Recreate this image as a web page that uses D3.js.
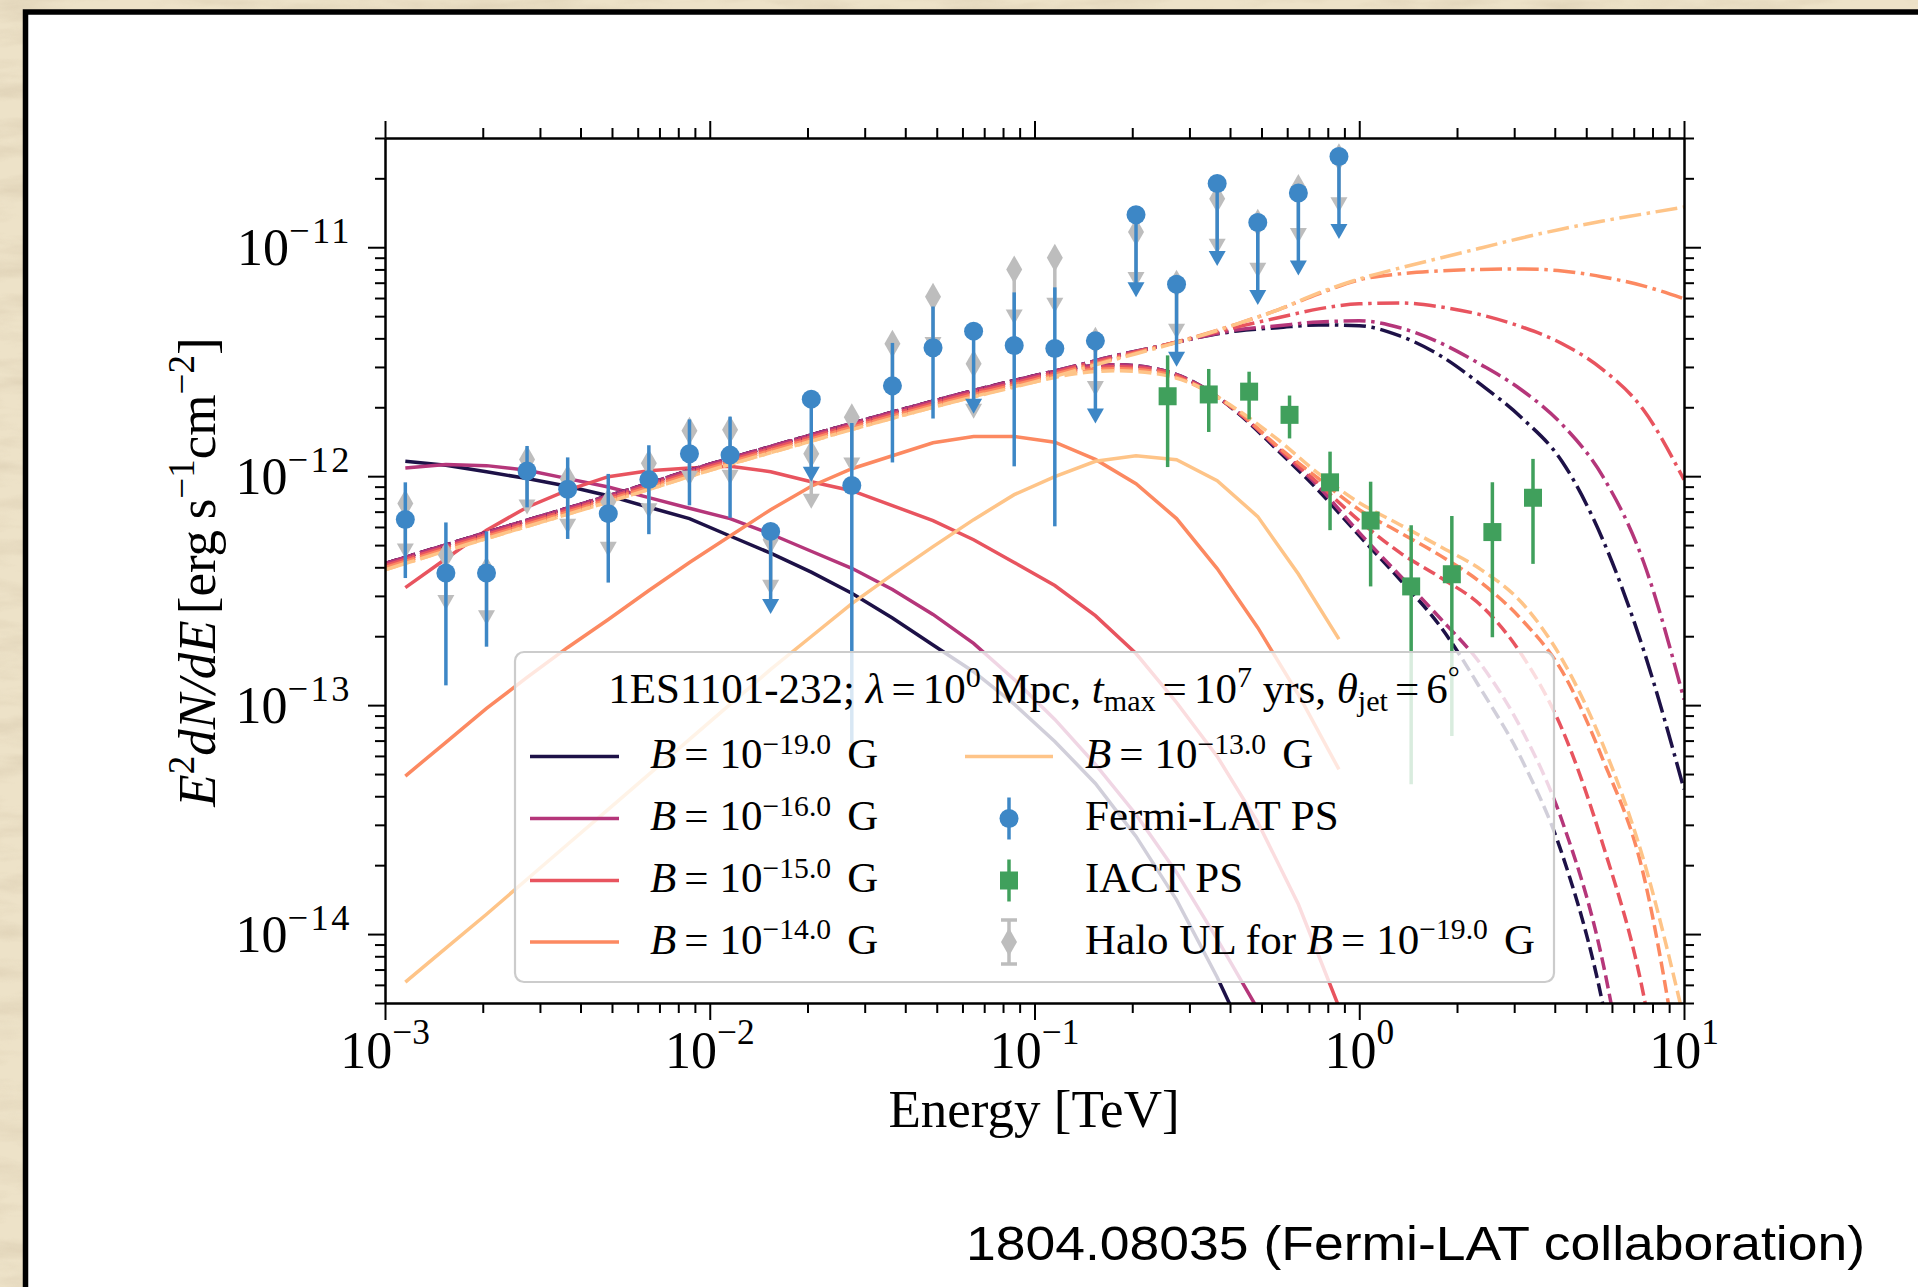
<!DOCTYPE html>
<html>
<head>
<meta charset="utf-8">
<title>1ES1101-232 cascade spectra</title>
<script src="https://cdn.jsdelivr.net/npm/d3@7"></script>
<style>
  html, body { margin: 0; padding: 0; background: #ede2c8; }
  svg { display: block; }
  text { font-family: "Liberation Serif", "Times New Roman", serif; fill: #000; white-space: pre; }
</style>
</head>
<body>
<svg id="chart" width="1918" height="1287"></svg>
<script>
// ---- data (fluxes in units of 1e-12 erg s^-1 cm^-2, energies in TeV) ----
const FLUX_UNIT = 1e-12;

// Fermi-LAT bin centres, also the energy grid of the cascade (solid) curves
const fermiE = [0.001155, 0.00154, 0.002054, 0.002738, 0.003652, 0.00487, 0.006494, 0.00866,
  0.01155, 0.0154, 0.02054, 0.02738, 0.03652, 0.0487, 0.06494, 0.0866,
  0.1155, 0.154, 0.2054, 0.2738, 0.3652, 0.487, 0.6494, 0.866];
const fermiF = [0.647, 0.378, 0.378, 1.054, 0.877, 0.686, 0.966, 1.253, 1.236, 0.574, 2.17, 0.910,
  2.48, 3.64, 4.30, 3.72, 3.61, 3.90, 13.87, 6.89, 19.0, 12.82, 17.26, 24.9];
const fermiHi = [0.94, 0.628, 0.574, 1.355, 1.208, 1.023, 1.365, 1.77, 1.82, null, null, 1.706,
  3.82, 5.51, null, 6.35, 6.68, null, null, null, null, null, null, null];
const fermiLo = [0.359, 0.122, 0.180, 0.731, 0.532, 0.343, 0.558, 0.746, 0.658, null, null, 0.0682,
  1.148, 1.786, null, 1.104, 0.604, null, null, null, null, null, null, null];
const fermiUL = [0, 0, 0, 0, 0, 0, 0, 0, 0, 1, 1, 0, 0, 0, 1, 0, 0, 1, 1, 1, 1, 1, 1, 1];

// halo upper limits for B = 1e-19 G (same bins)
const haloF = [0.760, 0.453, 0.388, 1.183, 0.975, 0.774, 1.138, 1.578, 1.596, 0.528, 1.253, 1.807,
  3.79, 6.07, 3.10, 8.0, 9.0, 3.90, 11.67, 6.93, 16.3, 12.8, 18.15, 24.7];

// IACT points
const iactE = [0.257, 0.344, 0.458, 0.610, 0.813, 1.084, 1.445, 1.928, 2.570, 3.428];
const iactF = [2.234, 2.275, 2.34, 1.853, 0.940, 0.640, 0.330, 0.373, 0.570, 0.805];
const iactHi = [3.37, 2.94, 2.86, 2.25, 1.28, 0.946, 0.610, 0.670, 0.940, 1.19];
const iactLo = [1.096, 1.56, 1.77, 1.462, 0.581, 0.330, 0.0451, 0.0733, 0.198, 0.414];

// energy grid of the observed (dashed) and intrinsic (dash-dot) spectra
const modelE = [0.001, 0.001778, 0.003162, 0.005623, 0.01, 0.01778, 0.03162, 0.05623, 0.1,
  0.1334, 0.1778, 0.2371, 0.3162, 0.4217, 0.5623, 0.7499, 1.0, 1.334, 1.778, 2.371, 3.162,
  4.217, 5.623, 7.499, 10.0];

// cascade component (solid)
const cascade19 = [1.162, 1.117, 1.046, 0.976, 0.904, 0.822, 0.732, 0.653, 0.548, 0.461, 0.381, 0.308,
  0.240, 0.183, 0.140, 0.101, 0.0694, 0.0455, 0.0267, 0.0141, 0.00648, 0.00271];
const cascade16 = [1.087, 1.126, 1.112, 1.062, 0.976, 0.897, 0.806, 0.724, 0.653, 0.559, 0.470, 0.396,
  0.320, 0.249, 0.186, 0.1295, 0.0866, 0.0551, 0.0333, 0.0186, 0.0095, 0.0047];
const cascade15 = [0.326, 0.436, 0.581, 0.732, 0.870, 0.995, 1.055, 1.087, 1.105, 1.046, 0.946, 0.864,
  0.744, 0.639, 0.528, 0.420, 0.333, 0.246, 0.168, 0.1027, 0.0597, 0.0308, 0.0135, 0.0048];
const cascade14 = [0.0490, 0.0688, 0.0967, 0.1321, 0.1786, 0.2365, 0.3166, 0.4195, 0.548, 0.714, 0.904, 1.078,
  1.228, 1.400, 1.490, 1.490, 1.407, 1.184, 0.927, 0.653, 0.395, 0.218, 0.1113, 0.0524];
const cascade13 = [0.00617, 0.00868, 0.01221, 0.01736, 0.02467, 0.03507, 0.0498, 0.0709, 0.1007, 0.1432, 0.1994, 0.2778,
  0.3717, 0.4924, 0.6459, 0.8306, 0.995, 1.162, 1.228, 1.180, 0.956, 0.666, 0.3736, 0.1943];

// observed spectrum (dashed)
const observed19 = [0.4151, 0.5336, 0.6825, 0.8733, 1.128, 1.428, 1.800, 2.245, 2.745, 2.974, 3.065, 2.944,
  2.533, 1.893, 1.292, 0.864, 0.550, 0.3534, 0.2205, 0.1171, 0.0580, 0.0223, 0.00494, 0.000422];
const observed16 = [0.4151, 0.5336, 0.6825, 0.8733, 1.128, 1.428, 1.800, 2.245, 2.745, 2.974, 3.065, 2.944,
  2.533, 1.911, 1.318, 0.900, 0.567, 0.3681, 0.2389, 0.1505, 0.0783, 0.0311, 0.00754, 0.000697];
const observed15 = [0.4068, 0.5229, 0.6689, 0.8558, 1.105, 1.399, 1.764, 2.200, 2.690, 2.915, 3.004, 2.915,
  2.507, 1.911, 1.331, 0.927, 0.639, 0.4636, 0.3607, 0.2723, 0.1664, 0.0783, 0.0247, 0.00547, 0.000422];
const observed14 = [0.3985, 0.5123, 0.6552, 0.8384, 1.083, 1.371, 1.728, 2.155, 2.635, 2.857, 2.944, 2.857,
  2.482, 1.931, 1.345, 0.975, 0.714, 0.567, 0.4498, 0.3430, 0.2365, 0.1403, 0.0580, 0.01825, 0.0019];
const observed13 = [0.3902, 0.5016, 0.6416, 0.8209, 1.060, 1.342, 1.692, 2.110, 2.580, 2.801, 2.886, 2.801,
  2.482, 1.950, 1.443, 1.025, 0.766, 0.614, 0.492, 0.3909, 0.2806, 0.1582, 0.0674, 0.0212, 0.00425];

// intrinsic spectrum (dash-dot)
const intrinsic19 = [0.4151, 0.5336, 0.6825, 0.8733, 1.128, 1.428, 1.800, 2.245, 2.745, 3.03, 3.36, 3.67,
  4.02, 4.31, 4.45, 4.58, 4.54, 4.10, 3.36, 2.51, 1.80, 1.157, 0.528, 0.175, 0.0429];
const intrinsic16 = [0.4151, 0.5336, 0.6825, 0.8733, 1.128, 1.428, 1.800, 2.245, 2.745, 3.03, 3.36, 3.67,
  4.02, 4.36, 4.54, 4.72, 4.77, 4.45, 3.82, 3.07, 2.38, 1.68, 0.998, 0.424, 0.1059];
const intrinsic15 = [0.4068, 0.5229, 0.6689, 0.8558, 1.105, 1.399, 1.764, 2.200, 2.690, 3.00, 3.32, 3.67,
  4.06, 4.49, 4.92, 5.38, 5.66, 5.71, 5.49, 5.07, 4.49, 3.79, 2.92, 1.95, 0.965];
const intrinsic14 = [0.3985, 0.5123, 0.6552, 0.8384, 1.083, 1.371, 1.728, 2.155, 2.635, 2.94, 3.27, 3.65,
  4.08, 4.63, 5.33, 6.26, 7.20, 7.65, 7.88, 8.00, 8.04, 7.88, 7.42, 6.78, 5.95];
const intrinsic13 = [0.3902, 0.5016, 0.6416, 0.8209, 1.060, 1.342, 1.692, 2.110, 2.580, 2.89, 3.24, 3.62,
  4.06, 4.63, 5.33, 6.32, 7.27, 8.12, 8.98, 9.93, 10.98, 12.02, 13.02, 13.97, 14.99];

const bExponents = ["\u221219.0", "\u221216.0", "\u221215.0", "\u221214.0", "\u221213.0"];
const xTickExp = ["\u22123", "\u22122", "\u22121", "0", "1"];
const yTickExp = ["\u221214", "\u221213", "\u221212", "\u221211"];

// arrow lengths of the upper limits (fraction of the value)
const fermiArrow = 0.47;
const haloArrow = 0.62;

// ---- chart ----
const svg = d3.select("#chart");
const plot = { left: 385, right: 1684, top: 138, bottom: 1003 };

const x = d3.scaleLog().domain([1e-3, 10]).range([plot.left, plot.right]);
const y = d3.scaleLog().domain([5e-15, 3e-11]).range([plot.bottom, plot.top]);
const fy = v => y(v * FLUX_UNIT);

const colors = ["#1d1147", "#b5367a", "#e8545f", "#fc8961", "#fec488"];
const models = [
  { exp: bExponents[0], color: colors[0], cascade: cascade19, observed: observed19, intrinsic: intrinsic19 },
  { exp: bExponents[1], color: colors[1], cascade: cascade16, observed: observed16, intrinsic: intrinsic16 },
  { exp: bExponents[2], color: colors[2], cascade: cascade15, observed: observed15, intrinsic: intrinsic15 },
  { exp: bExponents[3], color: colors[3], cascade: cascade14, observed: observed14, intrinsic: intrinsic14 },
  { exp: bExponents[4], color: colors[4], cascade: cascade13, observed: observed13, intrinsic: intrinsic13 }
];

const blue = "#3d87c6", green = "#40a05c", grey = "#bdbdbd";
const LW = 3.5;

// background: paper + white slide
const defs = svg.append("defs");
const paper = defs.append("filter").attr("id", "paper")
  .attr("x", 0).attr("y", 0).attr("width", 1).attr("height", 1);
paper.append("feTurbulence").attr("type", "fractalNoise")
  .attr("baseFrequency", "0.012 0.05").attr("numOctaves", 4).attr("seed", 11);
paper.append("feColorMatrix").attr("type", "matrix")
  .attr("values", "0 0 0 0 0.66  0 0 0 0 0.56  0 0 0 0 0.40  1.5 0 0 0 -0.6");

svg.append("rect").attr("width", 1918).attr("height", 1287).attr("fill", "#ede2c8");
svg.append("rect").attr("width", 1918).attr("height", 1287)
  .attr("filter", "url(#paper)").attr("opacity", 0.7);
svg.append("rect").attr("x", 25.5).attr("y", 12).attr("width", 2000).attr("height", 2000)
  .attr("fill", "#fff").attr("stroke", "#000").attr("stroke-width", 5.5);

defs.append("clipPath").attr("id", "plotclip").append("rect")
  .attr("x", plot.left).attr("y", plot.top)
  .attr("width", plot.right - plot.left).attr("height", plot.bottom - plot.top);

const g = svg.append("g").attr("clip-path", "url(#plotclip)");

// curves
const lineLinear = d3.line().x(d => x(d[0])).y(d => fy(d[1]));
const lineSmooth = d3.line().x(d => x(d[0])).y(d => fy(d[1])).curve(d3.curveMonotoneX);
const zipE = (es, vs) => vs.map((v, i) => [es[i], v]);

models.forEach(m => {
  g.append("path").datum(zipE(fermiE, m.cascade)).attr("d", lineLinear)
    .attr("fill", "none").attr("stroke", m.color).attr("stroke-width", LW);
});
models.forEach(m => {
  g.append("path").datum(zipE(modelE, m.observed)).attr("d", lineSmooth)
    .attr("fill", "none").attr("stroke", m.color).attr("stroke-width", LW)
    .attr("stroke-dasharray", "13,5.6");
});
models.forEach(m => {
  g.append("path").datum(zipE(modelE, m.intrinsic)).attr("d", lineSmooth)
    .attr("fill", "none").attr("stroke", m.color).attr("stroke-width", LW)
    .attr("stroke-dasharray", "22,5.6,3.5,5.6");
});

// marker helpers
const downArrow = (cx, cy) => `M${cx - 8.5},${cy - 7.5}L${cx + 8.5},${cy - 7.5}L${cx},${cy + 7.5}Z`;
const diamond = (cx, cy, w, h) => `M${cx},${cy - h / 2}L${cx + w / 2},${cy}L${cx},${cy + h / 2}L${cx - w / 2},${cy}Z`;

// halo upper limits
const gh = g.append("g");
haloF.forEach((v, i) => {
  const cx = x(fermiE[i]);
  gh.append("line").attr("x1", cx).attr("x2", cx).attr("y1", fy(v)).attr("y2", fy(v * haloArrow))
    .attr("stroke", grey).attr("stroke-width", LW);
  gh.append("path").attr("d", downArrow(cx, fy(v * haloArrow))).attr("fill", grey);
  gh.append("path").attr("d", diamond(cx, fy(v), 16, 28)).attr("fill", grey);
});

// Fermi-LAT points
const gf = g.append("g");
fermiF.forEach((v, i) => {
  const cx = x(fermiE[i]);
  if (fermiUL[i]) {
    gf.append("line").attr("x1", cx).attr("x2", cx).attr("y1", fy(v)).attr("y2", fy(v * fermiArrow))
      .attr("stroke", blue).attr("stroke-width", LW);
    gf.append("path").attr("d", downArrow(cx, fy(v * fermiArrow))).attr("fill", blue);
  } else {
    gf.append("line").attr("x1", cx).attr("x2", cx).attr("y1", fy(fermiLo[i])).attr("y2", fy(fermiHi[i]))
      .attr("stroke", blue).attr("stroke-width", LW);
  }
  gf.append("circle").attr("cx", cx).attr("cy", fy(v)).attr("r", 9.5).attr("fill", blue);
});

// IACT points
const gi = g.append("g");
iactF.forEach((v, i) => {
  const cx = x(iactE[i]);
  gi.append("line").attr("x1", cx).attr("x2", cx).attr("y1", fy(iactLo[i])).attr("y2", fy(iactHi[i]))
    .attr("stroke", green).attr("stroke-width", LW);
  gi.append("rect").attr("x", cx - 9).attr("y", fy(v) - 9).attr("width", 18).attr("height", 18)
    .attr("fill", green);
});

// rich text helper (italic, super- and subscripts)
function rich(sel, parts, size) {
  let cur = 0;
  parts.forEach(p => {
    const off = p.sup ? -size * (p.raise || 0.36) : p.sub ? size * 0.18 : 0;
    const t = sel.append("tspan").text(p.t).attr("dy", off - cur);
    if (p.dx) t.attr("dx", p.dx);
    if (p.sup || p.sub) t.attr("font-size", size * (p.scale || 0.7));
    if (p.ls) t.attr("letter-spacing", p.ls);
    if (p.it) t.attr("font-style", "italic");
    cur = off;
  });
}

// legend
const LF = 43;
const lg = svg.append("g");
lg.append("rect").attr("x", 515).attr("y", 652).attr("width", 1039).attr("height", 330).attr("rx", 9)
  .attr("fill", "#fff").attr("fill-opacity", 0.8).attr("stroke", "#cccccc").attr("stroke-width", 2.2);

const title = lg.append("text").attr("x", 1034).attr("y", 703).attr("text-anchor", "middle").attr("font-size", LF);
rich(title, [
  { t: "1ES1101-232; " }, { t: "\u03bb", it: true }, { t: "=", dx: 7 }, { t: "10", dx: 7 }, { t: "0", sup: true, raise: 0.37 },
  { t: " Mpc, " }, { t: "t", it: true }, { t: "max", sub: true }, { t: "=", dx: 7 }, { t: "10", dx: 7 },
  { t: "7", sup: true, raise: 0.37 }, { t: " yrs, " }, { t: "\u03b8", it: true }, { t: "jet", sub: true },
  { t: "=", dx: 7 }, { t: "6", dx: 7 }, { t: "\u00b0", sup: true, raise: 0.37 }
], LF);

const rowBase = [768, 830, 892, 953.5];
function bParts(exp) {
  return [{ t: "B", it: true }, { t: "=", dx: 8 }, { t: "10", dx: 11 },
    { t: exp, sup: true, raise: 0.33, scale: 0.69 }, { t: "G", dx: 16 }];
}
[0, 1, 2, 3].forEach(r => {
  const hy = rowBase[r] - 11.5;
  lg.append("line").attr("x1", 530).attr("x2", 619).attr("y1", hy).attr("y2", hy)
    .attr("stroke", models[r].color).attr("stroke-width", LW);
  const t = lg.append("text").attr("x", 650).attr("y", rowBase[r]).attr("font-size", LF);
  rich(t, bParts(models[r].exp), LF);
});
// second column
{
  const hy0 = rowBase[0] - 11.5;
  lg.append("line").attr("x1", 965).attr("x2", 1053).attr("y1", hy0).attr("y2", hy0)
    .attr("stroke", models[4].color).attr("stroke-width", LW);
  const t0 = lg.append("text").attr("x", 1085).attr("y", rowBase[0]).attr("font-size", LF);
  rich(t0, bParts(models[4].exp), LF);

  const mx = 1009;
  const h1 = rowBase[1] - 11.5;
  lg.append("line").attr("x1", mx).attr("x2", mx).attr("y1", h1 - 21).attr("y2", h1 + 21)
    .attr("stroke", blue).attr("stroke-width", LW);
  lg.append("circle").attr("cx", mx).attr("cy", h1).attr("r", 9.5).attr("fill", blue);
  lg.append("text").attr("x", 1085).attr("y", rowBase[1]).attr("font-size", LF).text("Fermi-LAT PS");

  const h2 = rowBase[2] - 11.5;
  lg.append("line").attr("x1", mx).attr("x2", mx).attr("y1", h2 - 21).attr("y2", h2 + 21)
    .attr("stroke", green).attr("stroke-width", LW);
  lg.append("rect").attr("x", mx - 9).attr("y", h2 - 9).attr("width", 18).attr("height", 18).attr("fill", green);
  lg.append("text").attr("x", 1085).attr("y", rowBase[2]).attr("font-size", LF).text("IACT PS");

  const h3 = rowBase[3] - 11.5;
  lg.append("line").attr("x1", mx).attr("x2", mx).attr("y1", h3 - 22).attr("y2", h3 + 22)
    .attr("stroke", grey).attr("stroke-width", LW);
  [h3 - 22, h3 + 22].forEach(cy => lg.append("line").attr("x1", mx - 8).attr("x2", mx + 8)
    .attr("y1", cy).attr("y2", cy).attr("stroke", grey).attr("stroke-width", LW));
  lg.append("path").attr("d", diamond(mx, h3, 16, 28)).attr("fill", grey);
  const t3 = lg.append("text").attr("x", 1085).attr("y", rowBase[3]).attr("font-size", LF);
  rich(t3, [{ t: "Halo UL for " }].concat(bParts(bExponents[0])), LF);
}

// axes
const xMajor = [1e-3, 1e-2, 1e-1, 1, 10];
const xMinor = [];
for (let d = -3; d < 1; d++) for (let k = 2; k <= 9; k++) xMinor.push(k * Math.pow(10, d));
const yMajor = [1e-14, 1e-13, 1e-12, 1e-11];
const yMinor = [];
for (let d = -15; d < -10; d++) for (let k = 2; k <= 9; k++) {
  const v = k * Math.pow(10, d);
  if (v >= 5e-15 && v <= 3e-11) yMinor.push(v);
}

function axis(gen, tr, vals, size) {
  const a = svg.append("g").attr("transform", tr)
    .call(gen.tickValues(vals).tickSize(size).tickSizeOuter(0).tickFormat(""));
  a.selectAll("line, path").attr("stroke", "#000").attr("stroke-width", 2);
}
[[d3.axisBottom(x), `translate(0,${plot.bottom})`], [d3.axisTop(x), `translate(0,${plot.top})`]]
  .forEach(([gen, tr]) => { axis(gen, tr, xMinor, 10); axis(gen, tr, xMajor, 17); });
[[d3.axisLeft(y), `translate(${plot.left},0)`], [d3.axisRight(y), `translate(${plot.right},0)`]]
  .forEach(([gen, tr]) => { axis(gen, tr, yMinor, 10); axis(gen, tr, yMajor, 17); });

const TF = 52;
xMajor.forEach((v, i) => {
  const t = svg.append("text").attr("x", x(v)).attr("y", 1068).attr("text-anchor", "middle").attr("font-size", TF);
  rich(t, [{ t: "10" }, { t: xTickExp[i], sup: true, raise: 0.46, scale: 0.68 }], TF);
});
yMajor.forEach((v, i) => {
  const t = svg.append("text").attr("x", 352).attr("y", y(v) + 18).attr("text-anchor", "end").attr("font-size", TF);
  rich(t, [{ t: "10" }, { t: yTickExp[i], sup: true, raise: 0.42, scale: 0.7, ls: 2.5 }], TF);
});

// axis titles
svg.append("text").attr("x", 1034).attr("y", 1127).attr("text-anchor", "middle")
  .attr("font-size", 53).text("Energy [TeV]");
const yl = svg.append("text").attr("transform", "translate(215,572) rotate(-90)")
  .attr("text-anchor", "middle").attr("font-size", 53);
rich(yl, [{ t: "E", it: true }, { t: "2", sup: true, raise: 0.4 }, { t: "dN/dE", it: true },
  { t: "[erg\u2009s", dx: 6 }, { t: "\u22121", sup: true, raise: 0.4 }, { t: "cm" }, { t: "\u22122", sup: true, raise: 0.4 },
  { t: "]" }], 53);

// source note
svg.append("text").attr("x", 966).attr("y", 1260).attr("font-size", 48)
  .attr("textLength", 899).attr("lengthAdjust", "spacingAndGlyphs")
  .style("font-family", "'Liberation Sans', Arial, sans-serif")
  .text("1804.08035 (Fermi-LAT collaboration)");
</script>
</body>
</html>
